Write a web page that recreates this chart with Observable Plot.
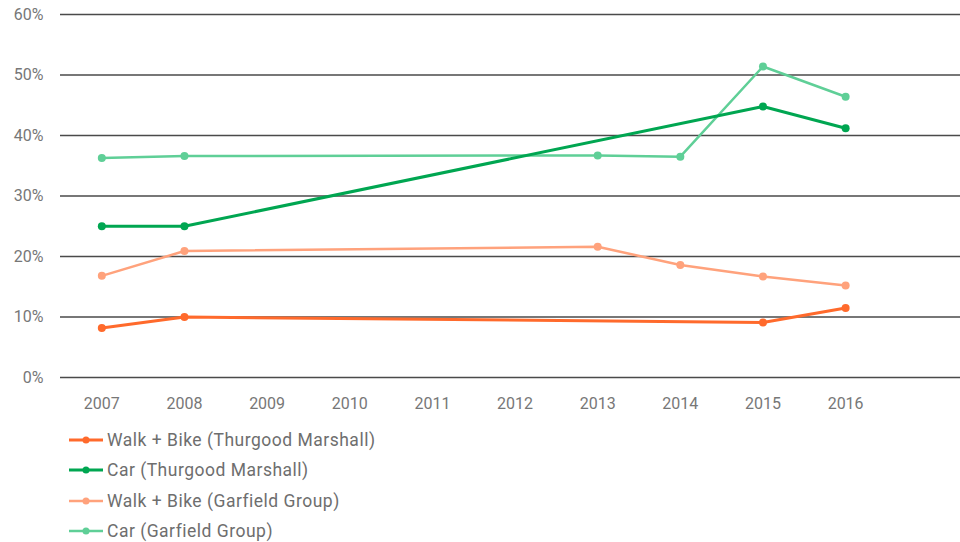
<!DOCTYPE html>
<html>
<head>
<meta charset="utf-8">
<script src="https://cdn.jsdelivr.net/npm/d3@7"></script>
<script src="https://cdn.jsdelivr.net/npm/@observablehq/plot@0.6"></script>
<style>
  html, body { margin: 0; padding: 0; background: #fff; }
  body { width: 960px; height: 542px; overflow: hidden; font-family: Roboto, "DejaVu Sans", sans-serif; }
  #legend { margin-left: 68px; margin-top: 5px; }
  .item { display: flex; align-items: center; height: 30.3px; font-size: 17.5px; color: #6e6e6e; letter-spacing: 0.5px; }
  .item svg { margin-right: 3px; }
</style>
</head>
<body>
<div id="chart"></div>
<div id="legend"></div>
<script>
const seriesNames = [
  "Walk + Bike (Thurgood Marshall)",
  "Car (Thurgood Marshall)",
  "Walk + Bike (Garfield Group)",
  "Car (Garfield Group)"
];
const seriesColors = ["#ff6a2c", "#00a651", "#ffa27c", "#5fcf97"];
const seriesWidths = [3, 3, 2.5, 2.5];

const walkBikeTMYears = [2007, 2008, 2015, 2016];
const walkBikeTM = [8.2, 10.0, 9.1, 11.5];

const carTMYears = [2007, 2008, 2015, 2016];
const carTM = [25.0, 25.0, 44.8, 41.2];

const walkBikeGGYears = [2007, 2008, 2013, 2014, 2015, 2016];
const walkBikeGG = [16.8, 20.9, 21.6, 18.6, 16.7, 15.2];

const carGGYears = [2007, 2008, 2013, 2014, 2015, 2016];
const carGG = [36.3, 36.6, 36.7, 36.5, 51.4, 46.4];

const xTicks = [2007, 2008, 2009, 2010, 2011, 2012, 2013, 2014, 2015, 2016];
const yTicks = [0, 10, 20, 30, 40, 50, 60];

const allYears = [walkBikeTMYears, carTMYears, walkBikeGGYears, carGGYears];
const allValues = [walkBikeTM, carTM, walkBikeGG, carGG];

const data = [];
allYears.forEach((ys, i) => ys.forEach((yr, j) => data.push({series: seriesNames[i], idx: i, year: yr, value: allValues[i][j]})));

const marks = [
  Plot.ruleY(yTicks, {stroke: "#4a4a4a", strokeWidth: 1.6})
];
[3, 2, 1, 0].forEach(i => {
  const d = data.filter(r => r.idx === i);
  marks.push(Plot.line(d, {x: "year", y: "value", stroke: seriesColors[i], strokeWidth: seriesWidths[i]}));
  marks.push(Plot.dot(d, {x: "year", y: "value", fill: seriesColors[i], r: 4}));
});

const chart = Plot.plot({
  width: 960,
  height: 420,
  marginLeft: 60,
  marginRight: 0,
  marginTop: 14,
  marginBottom: 43,
  style: {fontFamily: "Roboto, sans-serif", fontSize: "16px", color: "#777"},
  x: {domain: [2006.5, 2017.39], ticks: xTicks, tickFormat: d => String(d), tickSize: 0, tickPadding: 20, label: null},
  y: {domain: [0, 60], ticks: yTicks, tickFormat: d => d + "%", tickSize: 0, tickPadding: 17, label: null},
  marks
});
document.getElementById("chart").appendChild(chart);

const legend = document.getElementById("legend");
seriesNames.forEach((name, i) => {
  const item = document.createElement("div");
  item.className = "item";
  item.innerHTML = `<svg width="36" height="10"><line x1="1" x2="35" y1="5" y2="5" stroke="${seriesColors[i]}" stroke-width="${seriesWidths[i]}"/><circle cx="18" cy="5" r="3.5" fill="${seriesColors[i]}"/></svg><span>${name}</span>`;
  legend.appendChild(item);
});
</script>
</body>
</html>
